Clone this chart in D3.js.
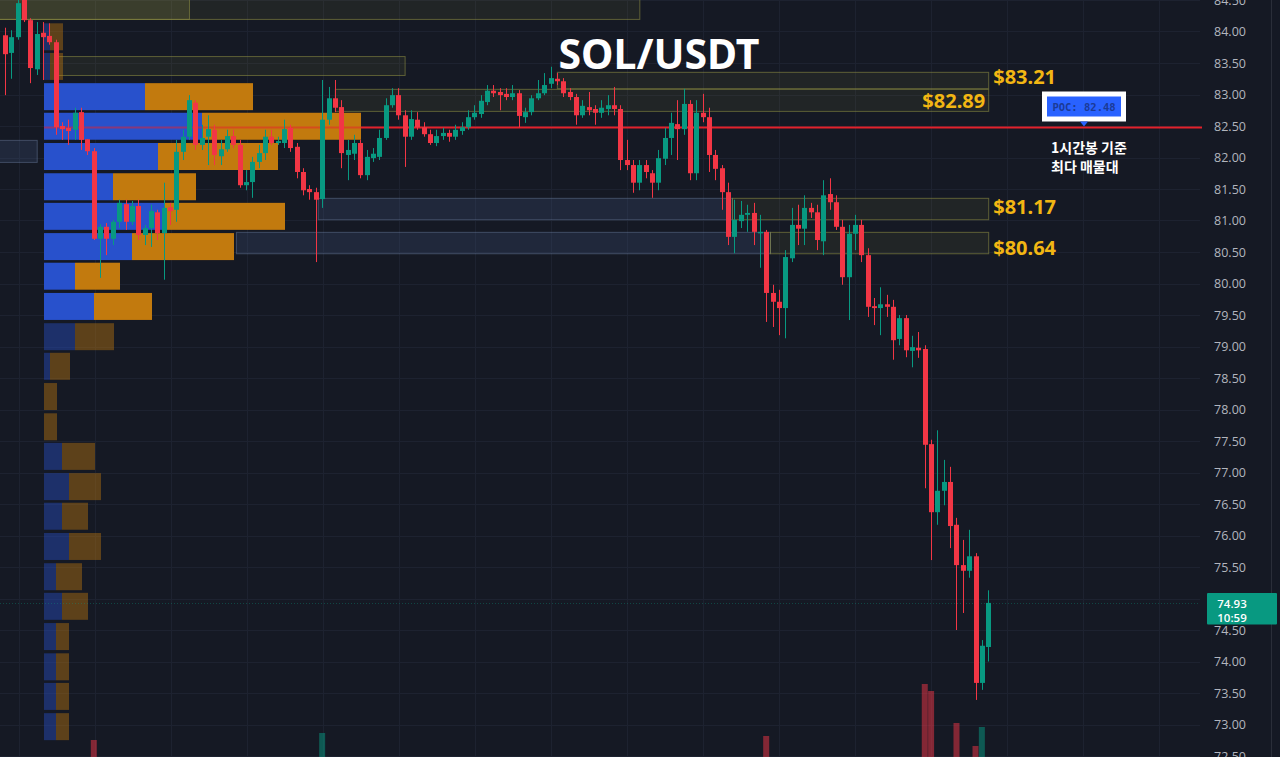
<!DOCTYPE html>
<html><head><meta charset="utf-8">
<script src="https://cdn.jsdelivr.net/npm/d3@7"></script>
<style>html,body{margin:0;padding:0;background:#151924;overflow:hidden}svg{display:block}</style>
</head><body><svg id="c" width="1280" height="757"></svg>
<script>
// ---------- DATA ----------
const title = "SOL/USDT";
const opens = [
83.94,83.66,83.91,84.53,84.18,83.40,83.98,83.93,83.83,82.50,
82.47,82.44,82.72,82.29,82.10,80.71,80.90,80.71,80.98,81.26,
80.98,81.23,80.77,80.88,81.13,80.80,81.21,81.17,82.09,82.33,
82.87,82.20,82.33,82.44,82.02,82.13,82.34,82.20,81.56,81.61,
81.93,82.07,82.33,82.23,82.23,82.47,82.17,81.77,81.50,81.45,
81.34,82.60,82.94,82.80,82.04,82.06,82.23,81.72,81.99,82.01,
82.31,82.83,82.99,82.67,82.33,82.60,82.48,82.37,82.23,82.34,
82.39,82.33,82.42,82.48,82.64,82.69,82.88,83.06,83.04,83.01,
82.96,83.02,82.64,82.72,82.94,83.02,83.17,83.25,83.21,83.04,
82.96,82.67,82.80,82.77,82.71,82.77,82.83,82.77,81.96,81.88,
81.60,81.88,81.75,81.60,81.98,82.31,82.53,82.45,82.85,81.75,
82.71,82.64,82.04,81.83,81.45,80.74,80.99,81.09,81.12,80.80,
80.82,79.85,79.71,79.61,80.40,80.93,80.87,81.20,81.13,80.67,
81.42,81.29,80.90,80.10,80.79,80.93,80.45,79.64,79.61,79.67,
79.63,79.12,79.45,78.93,78.98,78.96,77.45,76.37,76.71,76.85,
76.17,75.53,75.44,75.67,73.66,74.23];
const highs = [
84.06,84.02,84.50,84.53,84.21,84.15,84.15,84.13,83.87,82.56,
82.60,82.79,82.79,82.29,82.15,80.94,80.96,81.01,81.33,81.33,
81.31,81.33,80.93,81.25,81.17,81.60,81.28,82.28,82.44,82.99,
82.91,82.52,82.67,82.52,82.28,82.44,82.44,82.28,81.80,82.01,
82.20,82.44,82.44,82.33,82.60,82.52,82.23,81.83,81.56,81.52,
83.23,83.12,83.23,82.91,82.28,82.36,82.28,82.12,82.15,82.44,
82.94,83.10,83.10,82.75,82.75,82.72,82.56,82.44,82.44,82.47,
82.44,82.52,82.56,82.75,82.83,82.99,83.15,83.15,83.10,83.10,
83.15,83.07,82.79,82.99,83.23,83.34,83.44,83.34,83.26,83.10,
83.01,82.91,83.04,82.83,82.91,82.99,83.12,82.83,82.28,81.96,
81.96,81.96,81.80,82.12,82.47,82.71,82.91,83.09,82.91,82.91,
83.01,82.79,82.12,81.88,81.60,81.33,81.31,81.25,81.28,81.09,
80.85,79.98,79.90,80.53,81.20,81.25,81.40,81.28,81.25,81.64,
81.67,81.40,81.01,80.93,81.09,81.01,80.56,79.77,79.94,79.82,
79.74,79.50,79.50,79.17,79.23,79.02,77.52,77.67,77.20,77.09,
76.28,75.93,76.09,75.72,74.34,75.13];
const lows = [
82.99,83.25,83.87,84.15,83.18,83.31,83.23,83.79,82.36,82.28,
82.20,82.28,82.12,82.04,80.69,80.09,80.45,80.61,80.88,80.85,
80.93,80.69,80.61,80.58,80.69,80.06,80.93,80.98,81.96,82.28,
82.12,82.12,81.88,81.88,81.88,82.09,82.15,81.52,81.48,81.36,
81.83,81.96,82.20,82.20,82.15,82.09,81.67,81.40,81.33,80.34,
81.20,82.52,82.72,81.83,81.64,81.96,81.67,81.64,81.93,81.96,
82.28,82.79,82.60,81.85,82.28,82.44,82.33,82.20,82.18,82.28,
82.25,82.28,82.36,82.44,82.60,82.63,82.83,82.96,82.75,82.91,
82.91,82.48,82.55,82.67,82.91,82.99,83.10,83.15,82.96,82.91,
82.52,82.63,82.67,82.52,82.63,82.67,82.67,81.80,81.80,81.44,
81.48,81.67,81.36,81.48,81.88,82.04,81.96,82.36,81.64,81.64,
82.56,81.77,81.64,81.17,80.61,80.48,80.88,80.82,80.61,80.25,
79.39,79.31,79.18,79.13,80.34,80.61,80.61,81.04,80.53,80.45,
81.17,80.85,79.98,79.42,80.53,80.34,79.47,79.34,79.18,79.47,
78.79,79.02,78.83,78.67,78.82,76.75,75.61,76.17,76.48,75.80,
74.50,74.77,75.33,73.39,73.55,74.00];
const closes = [
83.64,83.91,84.45,84.18,83.42,83.96,83.91,83.83,82.48,82.45,
82.42,82.71,82.28,82.10,80.71,80.90,80.71,80.98,81.28,80.98,
81.23,80.77,80.88,81.15,80.80,81.20,81.15,82.09,82.33,82.91,
82.20,82.31,82.45,82.04,82.13,82.34,82.20,81.56,81.61,81.93,
82.07,82.33,82.23,82.26,82.45,82.15,81.77,81.48,81.45,81.33,
82.60,82.94,82.79,82.07,82.12,82.23,81.72,82.01,82.06,82.31,
82.83,82.99,82.67,82.33,82.61,82.48,82.37,82.23,82.34,82.39,
82.33,82.44,82.48,82.64,82.71,82.90,83.06,83.02,82.99,82.96,
83.02,82.66,82.72,82.94,83.02,83.15,83.26,83.21,83.02,82.96,
82.67,82.82,82.75,82.71,82.79,82.83,82.77,81.96,81.88,81.60,
81.88,81.77,81.60,81.99,82.31,82.55,82.45,82.85,81.75,82.71,
82.64,82.04,81.82,81.45,80.74,81.01,81.09,81.12,80.82,80.82,
79.85,79.71,79.61,80.42,80.93,80.87,81.20,81.13,80.69,81.40,
81.29,80.90,80.10,80.79,80.93,80.45,79.63,79.61,79.67,79.63,
79.10,79.45,78.94,78.99,78.94,77.44,76.37,76.71,76.85,76.15,
75.53,75.44,75.67,73.66,74.25,74.93];
const volumes = [
40,35,55,45,50,38,30,28,62,30, 25,35,40,30,90,45,30,28,25,22,
20,30,18,25,22,40,15,55,35,50, 45,20,25,30,18,20,15,35,15,25,
18,22,12,10,20,25,30,28,15,45, 97,50,35,45,20,18,30,22,10,25,
40,25,30,35,20,15,12,14,10,8,  9,10,8,15,12,22,28,10,12,8,
10,30,12,20,15,18,30,12,20,10, 25,12,10,9,8,10,12,55,20,30,
22,12,25,28,35,30,25,45,55,50, 15,40,25,40,65,35,15,10,30,20,
94,40,35,60,45,18,35,10,35,50, 20,30,60,55,18,35,55,12,15,10,
40,25,35,15,12,146,139,70,40,65, 107,45,40,84,103,60];

// volume profile (rows, top price of each bin)
const vpBinTop = [84.13,83.66,83.18,82.71,82.23,81.75,81.28,80.80,80.33,79.85,79.37,78.90,
                  78.42,77.94,77.47,76.99,76.52,76.04,75.56,75.09,74.61,74.13,73.66,73.18];
const vpBuy  = [6,6,101,158,114,69,121,88,31,50,31,6,0,0,18,25,18,25,12,18,12,12,12,12];
const vpSell = [13,13,108,159,120,83,120,102,45,58,39,20,13,13,33,32,26,32,26,26,13,13,13,13];
const vpBinSize = 0.476;
const vaHigh = 83.20, vaLow = 79.35;
const pocPrice = 82.48;

// zones (candle index range, price range)
const zoneFrom   = [-1, -1, 8, 87, 52, 49.3, 114.6, 36.4, 120.6, -1];
const zoneTo     = [100, 29, 63, 155, 155, 114.6, 155, 120.6, 155, 5];
const zoneTop    = [84.60, 84.60, 83.61, 83.36, 83.09, 81.36, 81.36, 80.82, 80.82, 82.28];
const zoneBottom = [84.20, 84.20, 83.31, 83.10, 82.74, 81.02, 81.02, 80.48, 80.48, 81.93];
const zoneKind   = ["olive","oliveHi","olive","olive","olive","blue","olive","blue","olive","blue"];
const zoneLabel  = ["","","","$83.21","$82.89","","$81.17","","$80.64",""];
const zoneLabelSide = ["","","","right","left","","right","","right",""];

const priceTicks = [84.5,84.0,83.5,83.0,82.5,82.0,81.5,81.0,80.5,80.0,79.5,79.0,78.5,78.0,
                    77.5,77.0,76.5,76.0,75.5,75.0,74.5,74.0,73.5,73.0,72.5];
const lastPrice = 74.93, countdown = "10:59";
const noteLines = ["1시간봉 기준", "최다 매물대"];

// ---------- DRAW ----------
const svg = d3.select("#c");
const UP = "#089981", DOWN = "#f23645";
const y = d3.scaleLinear().domain([72.5, 84.5]).range([756, 0]);
const x = d3.scaleLinear().domain([0, opens.length - 1]).range([5, 988.2]);
const xv = d3.scaleLinear().domain([0, 320]).range([44, 364]);
const vy = d3.scaleLinear().domain([0, 146]).range([830, 684]);

svg.append("rect").attr("width",1280).attr("height",757).attr("fill","#151924");

// grid
const g = svg.append("g");
g.selectAll("line.h").data(priceTicks).join("line")
  .attr("x1",0).attr("x2",1200).attr("y1",d=>Math.round(y(d))+0.5).attr("y2",d=>Math.round(y(d))+0.5)
  .attr("stroke","#1d2230").attr("stroke-width",1);
g.selectAll("line.v").data(d3.range(19, 1200, 76)).join("line")
  .attr("x1",d=>d+0.5).attr("x2",d=>d+0.5).attr("y1",0).attr("y2",757)
  .attr("stroke","#1d2230").attr("stroke-width",1);

// volume bars
svg.append("g").selectAll("rect").data(volumes).join("rect")
  .attr("x",(d,i)=>x(i)-3).attr("width",6)
  .attr("y",d=>vy(d)).attr("height",d=>830-vy(d))
  .attr("fill",(d,i)=>closes[i]>=opens[i]?UP:DOWN).attr("opacity",0.5);

// zones
const zStyle = {
  olive:{fill:"rgba(150,150,60,0.10)",stroke:"rgba(150,150,70,0.55)"},
  oliveHi:{fill:"rgba(150,150,70,0.22)",stroke:"rgba(150,150,70,0.55)"},
  blue:{fill:"rgba(75,95,140,0.22)",stroke:"rgba(110,130,165,0.45)"}
};
const zg = svg.append("g");
zoneTop.forEach((t,i)=>{
  const x0 = x(zoneFrom[i]), x1 = x(zoneTo[i]);
  zg.append("rect").attr("x",Math.max(x0,-2)+0.5).attr("y",y(t)+0.5)
    .attr("width",x1-Math.max(x0,-2)).attr("height",y(zoneBottom[i])-y(t))
    .attr("fill",zStyle[zoneKind[i]].fill).attr("stroke",zStyle[zoneKind[i]].stroke).attr("stroke-width",1);
});

// volume profile
const vpg = svg.append("g");
vpBinTop.forEach((t,i)=>{
  const inVA = t <= vaHigh && (t - vpBinSize) >= vaLow;
  const op = inVA ? 1 : 0.42;
  const y0 = y(t), h = y(t - vpBinSize) - y(t) - 3;
  if (vpBuy[i] > 0) vpg.append("rect").attr("x",xv(0)).attr("y",y0).attr("width",xv(vpBuy[i])-xv(0)).attr("height",h)
      .attr("fill","#2851cc").attr("opacity",op);
  vpg.append("rect").attr("x",xv(vpBuy[i])).attr("y",y0).attr("width",xv(vpSell[i])-xv(0)).attr("height",h)
      .attr("fill","#c27a0e").attr("opacity",op);
});

// POC line
const py = Math.round(y(pocPrice))+0.5;
svg.append("line").attr("x1",44).attr("x2",xv(vpBuy[3]+vpSell[3])).attr("y1",py).attr("y2",py)
  .attr("stroke","#e8202c").attr("stroke-width",2).attr("opacity",0.5);
svg.append("line").attr("x1",xv(vpBuy[3]+vpSell[3])).attr("x2",1202).attr("y1",py).attr("y2",py)
  .attr("stroke","#e3212b").attr("stroke-width",2);

// last price line
const ly = Math.round(y(lastPrice))+0.5;
svg.append("line").attr("x1",0).attr("x2",1200).attr("y1",ly).attr("y2",ly)
  .attr("stroke",UP).attr("stroke-width",1).attr("stroke-dasharray","1,2").attr("opacity",0.35);

// candles
const cg = svg.append("g");
opens.forEach((o,i)=>{
  const c = closes[i], col = c >= o ? UP : DOWN, cx = Math.round(x(i));
  cg.append("line").attr("x1",cx+0.5).attr("x2",cx+0.5).attr("y1",y(highs[i])).attr("y2",y(lows[i]))
    .attr("stroke",col).attr("stroke-width",1);
  const top = y(Math.max(o,c)), bot = y(Math.min(o,c));
  cg.append("rect").attr("x",cx-2).attr("width",5).attr("y",top).attr("height",Math.max(1.5,bot-top)).attr("fill",col);
});

// zone labels
const labelDy = {"$83.21":4, "$82.89":8, "$81.17":5, "$80.64":12};
zoneLabel.forEach((l,i)=>{
  if(!l) return;
  const right = zoneLabelSide[i]==="right";
  svg.append("text").attr("x", right ? x(zoneTo[i])+5 : x(zoneTo[i])-3)
    .attr("y",(y(zoneTop[i])+y(zoneBottom[i]))/2 + labelDy[l])
    .attr("text-anchor", right ? "start":"end")
    .attr("font-family","'Noto Sans','Open Sans',sans-serif").attr("font-weight",700).attr("font-size",20)
    .attr("fill","#f2b613").text(l);
});

// title
svg.append("text").attr("x",659).attr("y",69).attr("text-anchor","middle")
  .attr("font-family","'Noto Sans','Open Sans',sans-serif").attr("font-weight",700).attr("font-size",41)
  .attr("fill","#ffffff").text(title);

// POC label
const bx = 1042, by = py - 36;
svg.append("rect").attr("x",bx).attr("y",by).attr("width",84).attr("height",30).attr("fill","#ffffff");
svg.append("rect").attr("x",bx+5).attr("y",by+5).attr("width",74).attr("height",20).attr("fill","#2962ff");
svg.append("path").attr("d",`M${bx+38},${by+30}L${bx+46},${by+30}L${bx+42},${py-1}Z`).attr("fill","#2962ff");
svg.append("text").attr("x",bx+42).attr("y",by+19).attr("text-anchor","middle")
  .attr("font-family","'DejaVu Sans Mono',monospace").attr("font-size",10.5).attr("font-weight",700).attr("fill","#1b3a96")
  .text("POC: " + pocPrice.toFixed(2));
noteLines.forEach((t,i)=>{
  svg.append("text").attr("x",1051).attr("y",py+25+i*19)
    .attr("font-family","'Noto Sans CJK KR',sans-serif").attr("font-weight",700).attr("font-size",14)
    .attr("fill","#ffffff").text(t);
});

// price axis (labels hidden under the last-price tag are skipped, as in the reference)
const tagTop = ly - 10.5, tagBot = ly + 21;
const visibleTicks = priceTicks.filter(p => y(p) < tagTop - 2 || y(p) > tagBot + 2);
const ax = svg.append("g").attr("transform","translate(1230,0)")
  .call(d3.axisRight(y).tickValues(visibleTicks).tickFormat(d3.format(".2f")).tickSize(0).tickPadding(0));
ax.select(".domain").remove();
ax.selectAll("text").attr("text-anchor","middle").attr("fill","#b2b5be")
  .attr("font-family","'Open Sans','Noto Sans',sans-serif").attr("font-size",12.5);
svg.append("line").attr("x1",1271.5).attr("x2",1271.5).attr("y1",0).attr("y2",757).attr("stroke","#2a2e39");

// last price tag
svg.append("rect").attr("x",1207).attr("y",tagTop).attr("width",70).attr("height",tagBot-tagTop).attr("fill",UP).attr("rx",1);
[lastPrice.toFixed(2), countdown].forEach((t,i)=>{
  svg.append("text").attr("x",1232).attr("y",ly+4+i*14).attr("text-anchor","middle")
    .attr("font-family","'Open Sans','Noto Sans',sans-serif").attr("font-size",11.5).attr("font-weight",600)
    .attr("fill","#ffffff").text(t);
});
</script></body></html>
